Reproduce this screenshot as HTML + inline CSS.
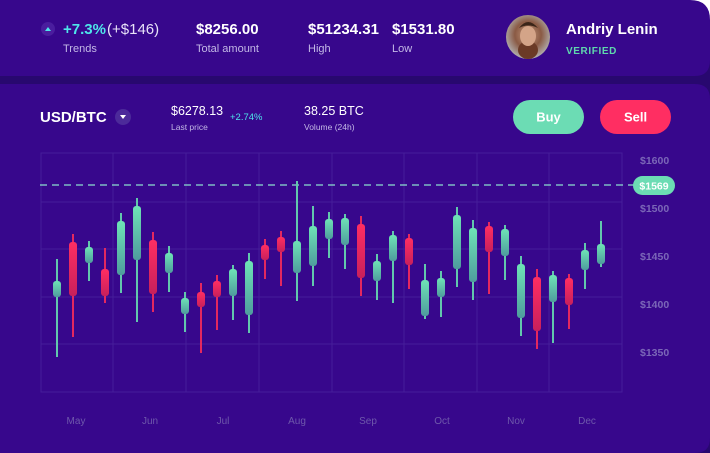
<!DOCTYPE html>
<html><head><meta charset="utf-8"><style>
html,body{margin:0;padding:0;background:#fff;}
svg{display:block;font-family:"Liberation Sans",sans-serif;}
</style></head><body>
<svg width="710" height="453" viewBox="0 0 710 453" xmlns="http://www.w3.org/2000/svg">
<defs>
<linearGradient id="g" x1="0" y1="0" x2="0" y2="1"><stop offset="0" stop-color="#6ee3b6"/><stop offset="1" stop-color="#4f9c9e"/></linearGradient>
<linearGradient id="r" x1="0" y1="0" x2="0" y2="1"><stop offset="0" stop-color="#ff2e62"/><stop offset="1" stop-color="#c8205c"/></linearGradient>
<radialGradient id="av" cx="0.5" cy="0.45" r="0.6"><stop offset="0" stop-color="#c79a7e"/><stop offset="0.5" stop-color="#8a5a44"/><stop offset="1" stop-color="#b9c0c4"/></radialGradient>
</defs>
<rect x="0" y="0" width="710" height="453" fill="#28086f"/>
<path d="M0 0 H690 Q710 0 710 20 V60 Q710 76 695 76 H0 Z" fill="#37078c"/>
<path d="M0 84 H695 Q710 84 710 99 V438 Q710 453 695 453 H0 Z" fill="#37078c"/>
<path d="M690 0 H710 V20 Q710 0 690 0 Z" fill="#fff"/>
<circle cx="48" cy="29" r="7" fill="#4a1d9e"/>
<path d="M45 31 L48 27 L51 31 Z" fill="#4ee6ea"/>
<text x="63" y="34" font-size="15" font-weight="bold" fill="#4ee6ea">+7.3%</text>
<text x="107" y="34" font-size="15" fill="#e8e2f8">(+$146)</text>
<text x="63" y="52" font-size="11" fill="#c3b8e6">Trends</text>
<text x="196" y="34" font-size="15" font-weight="bold" fill="#fff">$8256.00</text>
<text x="196" y="52" font-size="11" fill="#c3b8e6">Total amount</text>
<text x="308" y="34" font-size="15" font-weight="bold" fill="#fff">$51234.31</text>
<text x="308" y="52" font-size="11" fill="#c3b8e6">High</text>
<text x="392" y="34" font-size="15" font-weight="bold" fill="#fff">$1531.80</text>
<text x="392" y="52" font-size="11" fill="#c3b8e6">Low</text>
<circle cx="528" cy="37" r="22" fill="url(#av)"/>
<ellipse cx="528" cy="50" rx="10" ry="9" fill="#6b3a26"/>
<ellipse cx="528" cy="36" rx="8" ry="10" fill="#d4a488"/>
<path d="M519 28 Q528 16 538 28 Q528 23 519 28Z" fill="#3a2418"/>
<text x="566" y="34" font-size="15" font-weight="bold" fill="#fff">Andriy Lenin</text>
<text x="566" y="54" font-size="10" font-weight="bold" fill="#5fd8ad" letter-spacing="0.6">VERIFIED</text>
<text x="40" y="122" font-size="15" font-weight="bold" fill="#fff">USD/BTC</text>
<circle cx="123" cy="117" r="8" fill="#4c2a9a"/>
<path d="M120 115 L126 115 L123 119 Z" fill="#fff"/>
<text x="171" y="115" font-size="12.5" fill="#fff">$6278.13</text>
<text x="171" y="130" font-size="8.5" fill="#c3b8e6">Last price</text>
<text x="230" y="120" font-size="9.5" fill="#4ee6ea">+2.74%</text>
<text x="304" y="115" font-size="12.5" fill="#fff">38.25 BTC</text>
<text x="304" y="130" font-size="8.5" fill="#c3b8e6">Volume (24h)</text>
<rect x="513" y="100" width="71" height="34" rx="17" fill="#6cdcb4"/>
<text x="548.5" y="121.5" font-size="13" font-weight="bold" fill="#fff" text-anchor="middle">Buy</text>
<rect x="600" y="100" width="71" height="34" rx="17" fill="#ff2e62"/>
<text x="635.5" y="121.5" font-size="13" font-weight="bold" fill="#fff" text-anchor="middle">Sell</text>
<g stroke="#461d9a" stroke-width="1" fill="none">
<rect x="41" y="153" width="581" height="239"/>
<line x1="113" y1="153" x2="113" y2="392"/><line x1="186" y1="153" x2="186" y2="392"/><line x1="259" y1="153" x2="259" y2="392"/><line x1="332" y1="153" x2="332" y2="392"/><line x1="404" y1="153" x2="404" y2="392"/><line x1="477" y1="153" x2="477" y2="392"/><line x1="549" y1="153" x2="549" y2="392"/>
<line x1="41" y1="202" x2="622" y2="202"/><line x1="41" y1="249" x2="622" y2="249"/><line x1="41" y1="297" x2="622" y2="297"/><line x1="41" y1="344" x2="622" y2="344"/>
</g>
<line x1="40" y1="185" x2="634" y2="185" stroke="#8ce0d0" stroke-width="1.2" stroke-dasharray="7,5"/>
<g font-size="10.5" font-weight="bold" fill="#7b67b8">
<text x="640" y="164">$1600</text><text x="640" y="212">$1500</text><text x="640" y="260">$1450</text><text x="640" y="308">$1400</text><text x="640" y="356">$1350</text>
</g>
<rect x="633" y="176" width="42" height="19" rx="9.5" fill="#6cdcb4"/>
<text x="654" y="189.5" font-size="10.5" font-weight="bold" fill="#fff" text-anchor="middle">$1569</text>
<g font-size="10" fill="#6e58ab" text-anchor="middle">
<text x="76" y="424">May</text><text x="150" y="424">Jun</text><text x="223" y="424">Jul</text><text x="297" y="424">Aug</text><text x="368" y="424">Sep</text><text x="442" y="424">Oct</text><text x="516" y="424">Nov</text><text x="587" y="424">Dec</text>
</g>
<g fill="#62c7ad">
<rect x="56" y="259" width="2" height="98"/><rect x="88" y="241" width="2" height="40"/><rect x="120" y="213" width="2" height="80"/><rect x="136" y="198" width="2" height="124"/><rect x="168" y="246" width="2" height="46"/><rect x="184" y="292" width="2" height="40"/><rect x="232" y="265" width="2" height="55"/><rect x="248" y="253" width="2" height="80"/><rect x="296" y="181" width="2" height="120"/><rect x="312" y="206" width="2" height="80"/><rect x="328" y="212" width="2" height="46"/><rect x="344" y="214" width="2" height="55"/><rect x="376" y="254" width="2" height="46"/><rect x="392" y="231" width="2" height="72"/><rect x="424" y="264" width="2" height="55"/><rect x="440" y="271" width="2" height="46"/><rect x="456" y="207" width="2" height="80"/><rect x="472" y="220" width="2" height="80"/><rect x="504" y="225" width="2" height="55"/><rect x="520" y="256" width="2" height="80"/><rect x="552" y="271" width="2" height="72"/><rect x="584" y="243" width="2" height="46"/><rect x="600" y="221" width="2" height="46"/>
</g>
<g fill="url(#g)">
<rect x="53" y="281" width="8" height="16" rx="3"/><rect x="85" y="247" width="8" height="16" rx="3"/><rect x="117" y="221" width="8" height="54" rx="3"/><rect x="133" y="206" width="8" height="54" rx="3"/><rect x="165" y="253" width="8" height="20" rx="3"/><rect x="181" y="298" width="8" height="16" rx="3"/><rect x="229" y="269" width="8" height="27" rx="3"/><rect x="245" y="261" width="8" height="54" rx="3"/><rect x="293" y="241" width="8" height="32" rx="3"/><rect x="309" y="226" width="8" height="40" rx="3"/><rect x="325" y="219" width="8" height="20" rx="3"/><rect x="341" y="218" width="8" height="27" rx="3"/><rect x="373" y="261" width="8" height="20" rx="3"/><rect x="389" y="235" width="8" height="26" rx="3"/><rect x="421" y="280" width="8" height="36" rx="3"/><rect x="437" y="278" width="8" height="19" rx="3"/><rect x="453" y="215" width="8" height="54" rx="3"/><rect x="469" y="228" width="8" height="54" rx="3"/><rect x="501" y="229" width="8" height="27" rx="3"/><rect x="517" y="264" width="8" height="54" rx="3"/><rect x="549" y="275" width="8" height="27" rx="3"/><rect x="581" y="250" width="8" height="20" rx="3"/><rect x="597" y="244" width="8" height="20" rx="3"/>
</g>
<g fill="#e4285f">
<rect x="72" y="234" width="2" height="103"/><rect x="104" y="248" width="2" height="55"/><rect x="152" y="232" width="2" height="80"/><rect x="200" y="283" width="2" height="70"/><rect x="216" y="275" width="2" height="55"/><rect x="264" y="239" width="2" height="40"/><rect x="280" y="231" width="2" height="55"/><rect x="360" y="216" width="2" height="80"/><rect x="408" y="234" width="2" height="55"/><rect x="488" y="222" width="2" height="72"/><rect x="536" y="269" width="2" height="80"/><rect x="568" y="274" width="2" height="55"/>
</g>
<g fill="url(#r)">
<rect x="69" y="242" width="8" height="54" rx="3"/><rect x="101" y="269" width="8" height="27" rx="3"/><rect x="149" y="240" width="8" height="54" rx="3"/><rect x="197" y="292" width="8" height="15" rx="3"/><rect x="213" y="281" width="8" height="16" rx="3"/><rect x="261" y="245" width="8" height="15" rx="3"/><rect x="277" y="237" width="8" height="15" rx="3"/><rect x="357" y="224" width="8" height="54" rx="3"/><rect x="405" y="238" width="8" height="27" rx="3"/><rect x="485" y="226" width="8" height="26" rx="3"/><rect x="533" y="277" width="8" height="54" rx="3"/><rect x="565" y="278" width="8" height="27" rx="3"/>
</g>
</svg>
</body></html>
